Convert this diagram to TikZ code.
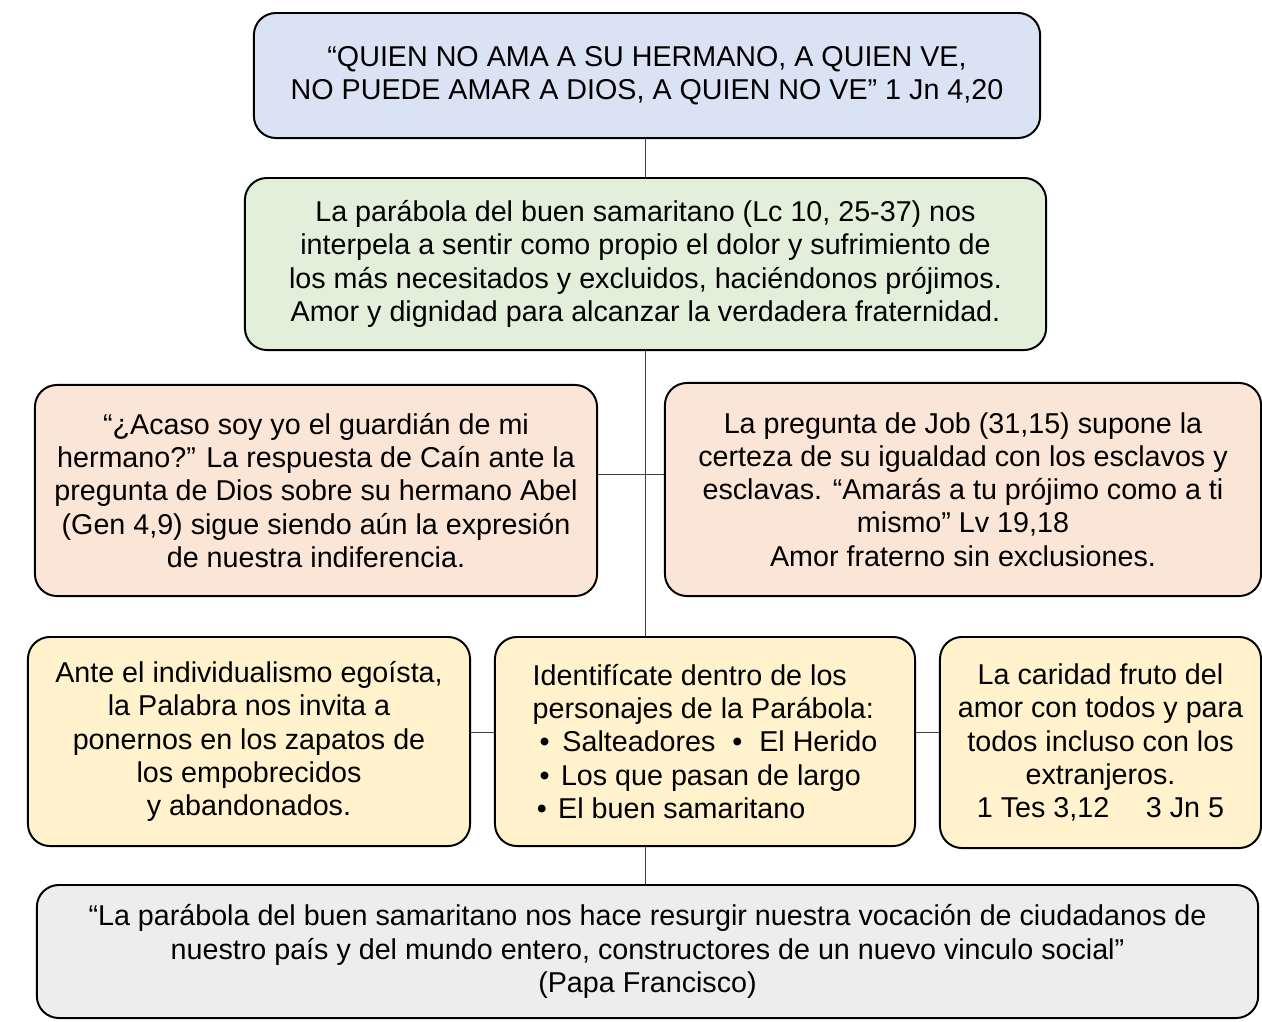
\documentclass[tikz,border=0pt]{standalone}
\usepackage{fontspec}
\setmainfont{Liberation Sans}
\usepackage{tikz}
\usetikzlibrary{positioning}
\usepackage{xcolor}
\definecolor{quoteBlue}{HTML}{DAE3F3}
\definecolor{parableGreen}{HTML}{E2EFDA}
\definecolor{questionPink}{HTML}{FBE5D6}
\definecolor{answerYellow}{HTML}{FFF2CC}
\definecolor{closingGray}{HTML}{EDEDED}
\colorlet{link line}{black!75}
\tikzset{
    card/.style={draw=black, line width=1.4pt, rounded corners=0.55cm, align=center,
                 inner sep=0pt, font=\fontsize{20.4}{23.6}\selectfont},
    link/.style={draw=link line, line width=0.7pt}
}

\begin{document}
\begin{tikzpicture}[x=0.025cm, y=-0.025cm]
    % fix the page to the size of the reference
    \useasboundingbox (0,0) rectangle (1262,1021);

    % top quote and the parable
    \node[card, fill=quoteBlue, minimum width=19.65cm, minimum height=3.125cm] (quote) at (647,75.5)
        {“QUIEN NO AMA A SU HERMANO, A QUIEN VE,\\
         NO PUEDE AMAR A DIOS, A QUIEN NO VE” 1 Jn 4,20};
    \node[card, fill=parableGreen, minimum width=20.025cm, minimum height=4.3cm] (parable) at (645.5,264)
        {La parábola del buen samaritano (Lc 10, 25-37) nos\\
         interpela a sentir como propio el dolor y sufrimiento de\\
         los más necesitados y excluidos, haciéndonos prójimos.\\
         Amor y dignidad para alcanzar la verdadera fraternidad.};

    % the two questions
    \node[card, fill=questionPink, minimum width=14.05cm, minimum height=5.275cm] (cain) at (316,490.5)
        {“¿Acaso soy yo el guardián de mi\\
         hermano?” La respuesta de Caín ante la\\
         pregunta de Dios sobre su hermano Abel\\
         (Gen 4,9) sigue siendo aún la expresión\\
         de nuestra indiferencia.};
    \node[card, fill=questionPink, minimum width=14.9cm, minimum height=5.325cm] (job) at (963,489.5)
        {La pregunta de Job (31,15) supone la\\
         certeza de su igualdad con los esclavos y\\
         esclavas. “Amarás a tu prójimo como a ti\\
         mismo” Lv 19,18\\
         Amor fraterno sin exclusiones.};

    % the three answers
    \node[card, fill=answerYellow, minimum width=11.05cm, minimum height=5.225cm] (selfish) at (249,741.5)
        {Ante el individualismo egoísta,\\
         la Palabra nos invita a\\
         ponernos en los zapatos de\\
         los empobrecidos\\
         y abandonados.};
    \node[card, fill=answerYellow, minimum width=10.5cm, minimum height=5.225cm, align=left] (roles) at (705,741.5)
        {Identifícate dentro de los\\
         personajes de la Parábola:\\
         \hspace*{5pt}•\hspace{9pt}Salteadores\hspace{12pt}•\hspace{12pt}El Herido\\
         \hspace*{5pt}•\hspace{8pt}Los que pasan de largo\\
         \hspace*{3pt}•\hspace{8pt}El buen samaritano};
    \node[card, fill=answerYellow, minimum width=8.025cm, minimum height=5.275cm] (charity) at (1100.5,742.5)
        {La caridad fruto del\\
         amor con todos y para\\
         todos incluso con los\\
         extranjeros.\\
         1 Tes 3,12\hspace{26pt}3 Jn 5};

    % closing words
    \node[card, fill=closingGray, minimum width=30.525cm, minimum height=3.325cm] (francis) at (647.5,951.5)
        {“La parábola del buen samaritano nos hace resurgir nuestra vocación de ciudadanos de\\
         nuestro país y del mundo entero, constructores de un nuevo vinculo social”\\
         (Papa Francisco)};

    % connectors
    \coordinate (questionLevel) at (645,474);
    \coordinate (answerLevel) at (645,732);
    \draw[link] (quote.south -| questionLevel) -- (parable.north -| questionLevel);
    \draw[link] (parable.south -| questionLevel) -- (roles.north -| questionLevel);
    \draw[link] (roles.south -| questionLevel) -- (francis.north -| questionLevel);
    \draw[link] (cain.east |- questionLevel) -- (job.west |- questionLevel);
    \draw[link] (selfish.east |- answerLevel) -- (roles.west |- answerLevel);
    \draw[link] (roles.east |- answerLevel) -- (charity.west |- answerLevel);
\end{tikzpicture}
\end{document}
